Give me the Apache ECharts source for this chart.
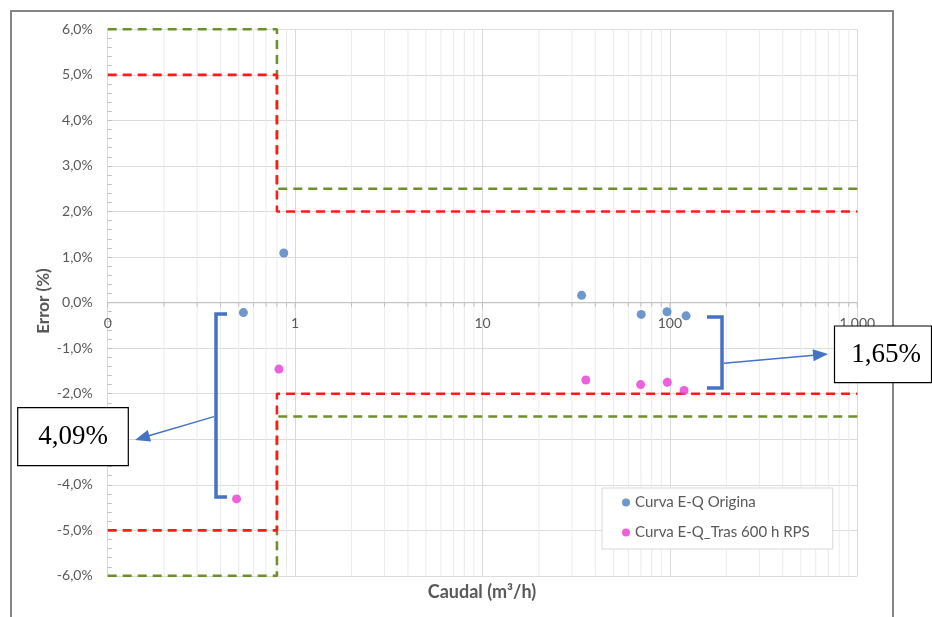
<!DOCTYPE html>
<html><head><meta charset="utf-8">
<script src="https://cdn.jsdelivr.net/npm/echarts@6/dist/echarts.min.js"></script>
<style>html,body{margin:0;padding:0;background:#fff}#c{width:932px;height:617px}</style>
</head><body><div id="c"></div>
<script>
// ---- data ----
const seriesNames = ['Curva E-Q Origina', 'Curva E-Q_Tras 600 h RPS'];
const origQ = [0.53, 0.87, 33.8, 70.3, 96.5, 122];
const origErr = [-0.22, 1.09, 0.16, -0.26, -0.20, -0.29];
const trasQ = [0.487, 0.82, 35.6, 69.8, 96.8, 119];
const trasErr = [-4.31, -1.46, -1.70, -1.80, -1.75, -1.93];
// tolerance limits (step lines)
const limitQ = [0.1, 0.8, 0.8, 1000];
const redUpper = [5, 5, 2, 2];
const redLower = [-5, -5, -2, -2];
const greenUpper = [6, 6, 2.5, 2.5];
const greenLower = [-6, -6, -2.5, -2.5];
// axis ticks
const xDecades = [0.1, 1, 10, 100, 1000];
const xTickLabels = ['0', '1', '10', '100', '1.000'];
const minorMultipliers = [2, 3, 4, 5, 6, 7, 8, 9];
const annotLeft = '4,09%';
const annotRight = '1,65%';

const zip = (a, b) => a.map((v, i) => [v, b[i]]);
const minorX = [];
xDecades.slice(0, -1).forEach(d => minorMultipliers.forEach(m => minorX.push([d * m, 0])));
const majorX = xDecades.map((d, i) => [d, 0, i]);

const TXT = '#595959';
const FONT = 'Lato';
const chart = echarts.init(document.getElementById('c'));

const dashed = (color, data) => ({
  type: 'line', data, symbol: 'none', silent: true, z: 3,
  lineStyle: { color, width: 2.6, type: [9, 6] }
});

chart.setOption({
  animation: false,
  backgroundColor: '#fff',
  grid: { left: 107.7, right: 74.7, top: 29.3, bottom: 41.1 },
  xAxis: {
    type: 'log', logBase: 10, min: 0.1, max: 1000,
    axisLine: { show: false },
    axisTick: { show: false },
    axisLabel: { show: false },
    splitLine: { show: true, lineStyle: { color: '#d9d9d9', width: 1 } }
  },
  yAxis: {
    type: 'value', min: -6, max: 6, interval: 1,
    axisLine: { show: true, onZero: false, lineStyle: { color: '#d9d9d9' } },
    axisTick: { show: true, inside: true, length: 4, lineStyle: { color: '#bfbfbf' } },
    minorTick: { show: true, splitNumber: 5, length: 4, lineStyle: { color: '#bfbfbf' } },
    axisLabel: {
      color: TXT, fontFamily: FONT, fontSize: 14, margin: 15,
      formatter: v => v.toFixed(1).replace('.', ',') + '%'
    },
    splitLine: { show: true, lineStyle: { color: '#dcdcdc', width: 1 } }
  },
  legend: {
    data: seriesNames, orient: 'vertical', left: 602, top: 488,
    backgroundColor: '#fff', borderColor: '#d9d9d9', borderWidth: 1,
    padding: [7, 23, 9, 20], itemGap: 15, itemWidth: 8, itemHeight: 8,
    icon: 'circle', textStyle: { color: TXT, fontFamily: FONT, fontSize: 15 }
  },
  series: [
    {
      type: 'custom', silent: true, z: 1, data: minorX,
      encode: { x: 0, y: 1 },
      renderItem: (params, api) => {
        const v = api.value(0);
        const t = api.coord([v, 6]), b = api.coord([v, -6]), z = api.coord([v, 0]);
        return { type: 'group', children: [
          { type: 'line', shape: { x1: t[0], y1: t[1], x2: b[0], y2: b[1] }, style: { stroke: '#ebebeb', lineWidth: 1 } },
          { type: 'line', shape: { x1: z[0], y1: z[1], x2: z[0], y2: z[1] + 4 }, style: { stroke: '#bfbfbf', lineWidth: 1 }, z2: 5 }
        ] };
      }
    },
    {
      // x axis drawn at Error = 0 (crossing line), with decade ticks and labels
      type: 'custom', silent: true, z: 2, data: majorX,
      encode: { x: 0, y: 1 },
      renderItem: (params, api) => {
        const v = api.value(0), idx = api.value(2);
        const p = api.coord([v, 0]);
        const children = [
          { type: 'line', shape: { x1: p[0], y1: p[1], x2: p[0], y2: p[1] + 5 }, style: { stroke: '#bfbfbf', lineWidth: 1 } },
          { type: 'text', x: p[0], y: p[1] + 21, style: { text: xTickLabels[idx], font: '14px ' + FONT, fill: TXT, align: 'center', verticalAlign: 'middle' } }
        ];
        if (idx === 0) {
          const e = api.coord([xDecades[xDecades.length - 1], 0]);
          children.push({ type: 'line', shape: { x1: p[0], y1: p[1], x2: e[0], y2: e[1] }, style: { stroke: '#c4c4c4', lineWidth: 1.2 } });
        }
        return { type: 'group', children };
      }
    },
    dashed('#6f8f2f', zip(limitQ, greenUpper)),
    dashed('#6f8f2f', zip(limitQ, greenLower)),
    dashed('#ff1a1a', zip(limitQ, redUpper)),
    dashed('#ff1a1a', zip(limitQ, redLower)),
    { name: seriesNames[0], type: 'scatter', z: 5, symbolSize: 9, itemStyle: { color: '#4a7ebf' }, data: zip(origQ, origErr) },
    { name: seriesNames[1], type: 'scatter', z: 5, symbolSize: 9, itemStyle: { color: '#e83ad3' }, data: zip(trasQ, trasErr) }
  ],
  graphic: [
    { type: 'rect', shape: { x: 11, y: 11, width: 882, height: 620 }, style: { fill: null, stroke: '#858585', lineWidth: 2 }, z: 0, silent: true },
    { type: 'text', x: 482, y: 592, style: { text: 'Caudal (m³/h)', font: 'bold 18px ' + FONT, fill: TXT, align: 'center', verticalAlign: 'middle' } },
    { type: 'text', x: 44, y: 301, rotation: Math.PI / 2, style: { text: 'Error (%)', font: 'bold 17px ' + FONT, fill: TXT, align: 'center', verticalAlign: 'middle' } },
    // left bracket + arrow
    { type: 'polyline', shape: { points: [[227, 314], [216, 314], [216, 497], [227, 497]] }, style: { stroke: '#4472c4', lineWidth: 3.5, fill: null }, z: 10 },
    { type: 'line', shape: { x1: 214, y1: 416.7, x2: 148, y2: 436 }, style: { stroke: '#4472c4', lineWidth: 1.4 }, z: 10 },
    { type: 'polygon', shape: { points: [[135, 440], [151.1, 441.6], [147.7, 430.1]] }, style: { fill: '#4472c4' }, z: 10 },
    // right bracket + arrow
    { type: 'polyline', shape: { points: [[707, 317], [722, 317], [722, 388], [707, 388]] }, style: { stroke: '#4472c4', lineWidth: 3.5, fill: null }, z: 10 },
    { type: 'line', shape: { x1: 724, y1: 363.3, x2: 814, y2: 355.3 }, style: { stroke: '#4472c4', lineWidth: 1.4 }, z: 10 },
    { type: 'polygon', shape: { points: [[828, 354], [813.6, 361.3], [812.6, 349.3]] }, style: { fill: '#4472c4' }, z: 10 },
    // boxes
    { type: 'rect', shape: { x: 17.7, y: 407.7, width: 110.6, height: 58 }, style: { fill: '#fff', stroke: '#000', lineWidth: 1.2 }, z: 10 },
    { type: 'text', x: 73, y: 437, z: 11, style: { text: annotLeft, font: '27px "Liberation Serif"', fill: '#000', align: 'center', verticalAlign: 'middle' } },
    { type: 'rect', shape: { x: 834.5, y: 326, width: 97, height: 56.7 }, style: { fill: '#fff', stroke: '#000', lineWidth: 1.2 }, z: 10 },
    { type: 'text', x: 886, y: 355, z: 11, style: { text: annotRight, font: '27px "Liberation Serif"', fill: '#000', align: 'center', verticalAlign: 'middle' } }
  ]
});
</script></body></html>
